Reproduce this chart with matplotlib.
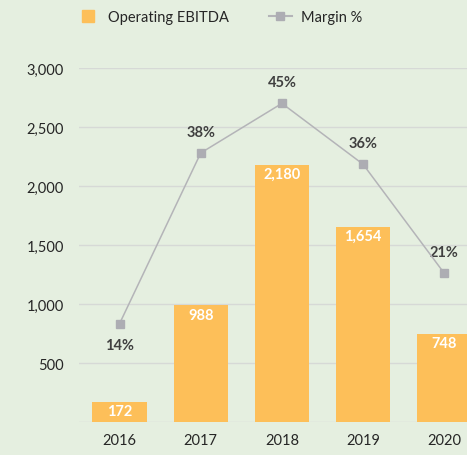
import matplotlib.pyplot as plt
from matplotlib.lines import Line2D

years = ['2016', '2017', '2018', '2019', '2020']
ebitda = [172, 988, 2180, 1654, 748]
margin = [13.9, 38.0, 45.0, 36.4, 21.0]
margin_labels = ['14%', '38%', '45%', '36%', '21%']

bg = '#e5efe0'
bar_color = '#fdbf59'
line_color = '#b4b4b8'
text_color = '#404040'

plt.rcParams['font.family'] = ['Lato', 'DejaVu Sans']

fig = plt.figure(figsize=(4.67, 4.56), dpi=100, facecolor=bg)
ax = fig.add_axes([79 / 467, 1 - 423 / 456, 1 - 79 / 467, 354 / 456])
ax.set_facecolor('none')

x = list(range(len(years)))
bars = ax.bar(x, ebitda, width=0.67, color=bar_color, zorder=2)
ax.set_xlim(-0.5, 4.28)
ax.set_ylim(0, 3000)
ax.set_yticks([500, 1000, 1500, 2000, 2500, 3000])
ax.set_yticklabels(['{:,}'.format(v) for v in [500, 1000, 1500, 2000, 2500, 3000]])
ax.set_xticks(x)
ax.set_xticklabels(years)
ax.yaxis.grid(True, color='#d6d9d6', linewidth=1, zorder=0)
ax.axhline(0, color='#d6d9d6', linewidth=1, zorder=1)
for s in ax.spines.values():
    s.set_visible(False)
ax.tick_params(length=0, labelsize=10.5, colors='#262626')
ax.tick_params(axis='y', pad=11)
ax.tick_params(axis='x', pad=8)

for b, v in zip(bars, ebitda):
    ax.text(b.get_x() + b.get_width() / 2, v - 20, '{:,}'.format(v),
            ha='center', va='top', color='white', fontsize=10.5, fontweight='bold', zorder=3)

ax2 = ax.twinx()
ax2.set_ylim(0, 50)
ax2.set_xlim(-0.5, 4.28)
ax2.axis('off')
ax2.plot(x, margin, color=line_color, linewidth=1.1, marker='s', markersize=6,
         markerfacecolor='#adadb3', markeredgecolor='#adadb3', zorder=4)
for i, (m, lab) in enumerate(zip(margin, margin_labels)):
    if i == 0:
        ax2.text(i, m - 2.0, lab, ha='center', va='top', color=text_color,
                 fontsize=10.5, fontweight='bold')
    else:
        ax2.text(i, m + 2.0, lab, ha='center', va='bottom', color=text_color,
                 fontsize=10.5, fontweight='bold')

handles = [Line2D([0], [0], linestyle='none', marker='s', markersize=8,
                  markerfacecolor=bar_color, markeredgecolor=bar_color),
           Line2D([0], [0], color=line_color, marker='s', markersize=6,
                  markerfacecolor='#adadb3', markeredgecolor='#adadb3')]
fig.legend(handles, ['Operating EBITDA', 'Margin %'], loc='center',
           bbox_to_anchor=(219 / 467, 1 - 18 / 456), ncol=2, frameon=False,
           fontsize=10.5, handlelength=1.6, columnspacing=2.7, handletextpad=0.6,
           labelcolor='#262626')

fig.savefig('out.png', dpi=100, facecolor=bg)
